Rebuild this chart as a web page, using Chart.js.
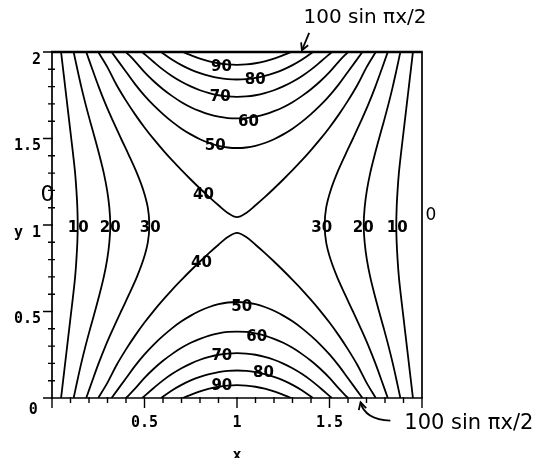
<!DOCTYPE html>
<html>
<head>
<meta charset="utf-8">
<script src="https://cdn.jsdelivr.net/npm/chart.js@4.4.1/dist/chart.umd.min.js"></script>
<style>
  html, body { margin: 0; padding: 0; background: #fff; }
  canvas { display: block; }
</style>
</head>
<body>
<canvas id="contours" width="558" height="458"></canvas>
<script>
// level lines of u(x, y) on the square 0..2 x 0..2
// u = 0 on the sides, u = 100 sin(pi x / 2) on top and bottom

// side curves (levels 10, 20, 30): x read at y = 0, 0.1, ... 2
const ySide = [0, 0.1, 0.2, 0.3, 0.4, 0.5, 0.6, 0.7, 0.8, 0.9, 1, 1.1, 1.2, 1.3, 1.4, 1.5, 1.6, 1.7, 1.8, 1.9, 2];
const left10 = [0.049, 0.060, 0.071, 0.082, 0.093, 0.104, 0.115, 0.125, 0.132, 0.137, 0.139, 0.137, 0.132, 0.125, 0.115, 0.104, 0.093, 0.082, 0.071, 0.060, 0.049];
const left20 = [0.117, 0.137, 0.158, 0.181, 0.206, 0.232, 0.257, 0.280, 0.298, 0.310, 0.315, 0.310, 0.298, 0.280, 0.257, 0.232, 0.206, 0.181, 0.158, 0.137, 0.117];
const left30 = [0.185, 0.218, 0.252, 0.289, 0.330, 0.373, 0.417, 0.459, 0.494, 0.518, 0.526, 0.518, 0.494, 0.459, 0.417, 0.373, 0.330, 0.289, 0.252, 0.218, 0.185];
const right10 = [1.951, 1.940, 1.929, 1.918, 1.907, 1.896, 1.885, 1.875, 1.868, 1.863, 1.861, 1.863, 1.868, 1.875, 1.885, 1.896, 1.907, 1.918, 1.929, 1.940, 1.951];
const right20 = [1.883, 1.863, 1.842, 1.819, 1.794, 1.768, 1.743, 1.720, 1.702, 1.690, 1.685, 1.690, 1.702, 1.720, 1.743, 1.768, 1.794, 1.819, 1.842, 1.863, 1.883];
const right30 = [1.815, 1.782, 1.748, 1.711, 1.670, 1.627, 1.583, 1.541, 1.506, 1.482, 1.474, 1.482, 1.506, 1.541, 1.583, 1.627, 1.670, 1.711, 1.748, 1.782, 1.815];

// arches (levels 40..90), [x, y] pairs, bottom half and top half
const bottom40 = [[0.25, 0], [0.3, 0.089], [0.35, 0.192], [0.4, 0.281], [0.45, 0.362], [0.5, 0.436], [0.55, 0.504], [0.6, 0.567], [0.65, 0.627], [0.7, 0.683], [0.75, 0.737], [0.8, 0.789], [0.85, 0.839], [0.9, 0.886], [0.95, 0.930], [1, 0.955], [1.05, 0.930], [1.1, 0.886], [1.15, 0.839], [1.2, 0.789], [1.25, 0.737], [1.3, 0.683], [1.35, 0.627], [1.4, 0.567], [1.45, 0.504], [1.5, 0.436], [1.55, 0.362], [1.6, 0.281], [1.65, 0.192], [1.7, 0.089], [1.75, 0]];
const top40 = [[0.25, 2], [0.3, 1.911], [0.35, 1.808], [0.4, 1.719], [0.45, 1.638], [0.5, 1.564], [0.55, 1.496], [0.6, 1.433], [0.65, 1.373], [0.7, 1.317], [0.75, 1.263], [0.8, 1.211], [0.85, 1.161], [0.9, 1.114], [0.95, 1.070], [1, 1.045], [1.05, 1.070], [1.1, 1.114], [1.15, 1.161], [1.2, 1.211], [1.25, 1.263], [1.3, 1.317], [1.35, 1.373], [1.4, 1.433], [1.45, 1.496], [1.5, 1.564], [1.55, 1.638], [1.6, 1.719], [1.65, 1.808], [1.7, 1.911], [1.75, 2]];
const bottom50 = [[0.322, 0], [0.4, 0.114], [0.45, 0.187], [0.5, 0.252], [0.55, 0.309], [0.6, 0.359], [0.65, 0.404], [0.7, 0.443], [0.75, 0.476], [0.8, 0.504], [0.85, 0.526], [0.9, 0.542], [0.95, 0.552], [1, 0.555], [1.05, 0.552], [1.1, 0.542], [1.15, 0.526], [1.2, 0.504], [1.25, 0.476], [1.3, 0.443], [1.35, 0.404], [1.4, 0.359], [1.45, 0.309], [1.5, 0.252], [1.55, 0.187], [1.6, 0.114], [1.678, 0]];
const top50 = [[0.322, 2], [0.4, 1.886], [0.45, 1.813], [0.5, 1.748], [0.55, 1.691], [0.6, 1.641], [0.65, 1.596], [0.7, 1.557], [0.75, 1.524], [0.8, 1.496], [0.85, 1.474], [0.9, 1.458], [0.95, 1.448], [1, 1.445], [1.05, 1.448], [1.1, 1.458], [1.15, 1.474], [1.2, 1.496], [1.25, 1.524], [1.3, 1.557], [1.35, 1.596], [1.4, 1.641], [1.45, 1.691], [1.5, 1.748], [1.55, 1.813], [1.6, 1.886], [1.678, 2]];
const bottom60 = [[0.40, 0], [0.45, 0.055], [0.5, 0.116], [0.55, 0.169], [0.6, 0.215], [0.65, 0.255], [0.7, 0.290], [0.75, 0.319], [0.8, 0.342], [0.85, 0.361], [0.9, 0.374], [0.95, 0.382], [1, 0.384], [1.05, 0.382], [1.1, 0.374], [1.15, 0.361], [1.2, 0.342], [1.25, 0.319], [1.3, 0.290], [1.35, 0.255], [1.4, 0.215], [1.45, 0.169], [1.5, 0.116], [1.55, 0.055], [1.6, 0]];
const top60 = [[0.40, 2], [0.45, 1.945], [0.5, 1.884], [0.55, 1.831], [0.6, 1.785], [0.65, 1.745], [0.7, 1.710], [0.75, 1.681], [0.8, 1.658], [0.85, 1.639], [0.9, 1.626], [0.95, 1.618], [1, 1.616], [1.05, 1.618], [1.1, 1.626], [1.15, 1.639], [1.2, 1.658], [1.25, 1.681], [1.3, 1.710], [1.35, 1.745], [1.4, 1.785], [1.45, 1.831], [1.5, 1.884], [1.55, 1.945], [1.6, 2]];
const bottom70 = [[0.487, 0], [0.55, 0.058], [0.6, 0.102], [0.65, 0.140], [0.7, 0.172], [0.75, 0.199], [0.8, 0.221], [0.85, 0.238], [0.9, 0.250], [0.95, 0.257], [1, 0.259], [1.05, 0.257], [1.1, 0.250], [1.15, 0.238], [1.2, 0.221], [1.25, 0.199], [1.3, 0.172], [1.35, 0.140], [1.4, 0.102], [1.45, 0.058], [1.513, 0]];
const top70 = [[0.487, 2], [0.55, 1.942], [0.6, 1.898], [0.65, 1.860], [0.7, 1.828], [0.75, 1.801], [0.8, 1.779], [0.85, 1.762], [0.9, 1.750], [0.95, 1.743], [1, 1.741], [1.05, 1.743], [1.1, 1.750], [1.15, 1.762], [1.2, 1.779], [1.25, 1.801], [1.3, 1.828], [1.35, 1.860], [1.4, 1.898], [1.45, 1.942], [1.513, 2]];
const bottom80 = [[0.59, 0], [0.65, 0.045], [0.7, 0.076], [0.75, 0.102], [0.8, 0.122], [0.85, 0.138], [0.9, 0.150], [0.95, 0.157], [1, 0.159], [1.05, 0.157], [1.1, 0.150], [1.15, 0.138], [1.2, 0.122], [1.25, 0.102], [1.3, 0.076], [1.35, 0.045], [1.41, 0]];
const top80 = [[0.59, 2], [0.65, 1.955], [0.7, 1.924], [0.75, 1.898], [0.8, 1.878], [0.85, 1.862], [0.9, 1.850], [0.95, 1.843], [1, 1.841], [1.05, 1.843], [1.1, 1.850], [1.15, 1.862], [1.2, 1.878], [1.25, 1.898], [1.3, 1.924], [1.35, 1.955], [1.41, 2]];
const bottom90 = [[0.707, 0], [0.75, 0.018], [0.8, 0.038], [0.85, 0.054], [0.9, 0.065], [0.95, 0.072], [1, 0.074], [1.05, 0.072], [1.1, 0.065], [1.15, 0.054], [1.2, 0.038], [1.25, 0.018], [1.293, 0]];
const top90 = [[0.707, 2], [0.75, 1.982], [0.8, 1.962], [0.85, 1.946], [0.9, 1.935], [0.95, 1.928], [1, 1.926], [1.05, 1.928], [1.1, 1.935], [1.15, 1.946], [1.2, 1.962], [1.25, 1.982], [1.293, 2]];

// axis labels
const xTickText = { '0.5': '0.5', '1': '1', '1.5': '1.5' };
const yTickText = { '0.5': '0.5', '1': 'y 1', '1.5': '1.5', '2': '2' };

// level numbers written on the curves: text, x, y
const levelTags = [
  ['90', 0.916, 1.915], ['80', 1.098, 1.838], ['70', 0.909, 1.738], ['60', 1.062, 1.597], ['50', 0.882, 1.458], ['40', 0.819, 1.173],
  ['40', 0.808, 0.782], ['50', 1.025, 0.528], ['60', 1.107, 0.351], ['70', 0.918, 0.243], ['80', 1.143, 0.143], ['90', 0.918, 0.069],
  ['10', 0.142, 0.983], ['20', 0.315, 0.983], ['30', 0.531, 0.983], ['30', 1.458, 0.983], ['20', 1.682, 0.983], ['10', 1.866, 0.983]
];
const boundaryText = '100 sin \u03c0x/2';

const sideCurve = xs => xs.map((x, i) => ({ x: x, y: ySide[i] }));

const curves = [
  sideCurve(left10), sideCurve(left20), sideCurve(left30),
  sideCurve(right10), sideCurve(right20), sideCurve(right30),
  bottom40, top40, bottom50, top50, bottom60, top60,
  bottom70, top70, bottom80, top80, bottom90, top90
];

const tickValue = v => String(+Number(v).toFixed(1));
const isMajor = v => Math.abs(v * 2 - Math.round(v * 2)) < 1e-6;

// frame, inward/outward tick marks
const frameTicks = {
  id: 'frameTicks',
  afterDraw(chart) {
    const { ctx, chartArea: a, scales } = chart;
    ctx.save();
    ctx.strokeStyle = '#000';
    ctx.lineWidth = 1.7;
    ctx.beginPath();
    ctx.moveTo(a.left, a.top); ctx.lineTo(a.left, a.bottom);
    ctx.lineTo(a.right, a.bottom); ctx.lineTo(a.right, a.top);
    ctx.stroke();
    ctx.lineWidth = 2.6;
    ctx.beginPath();
    ctx.moveTo(a.left - 1, a.top); ctx.lineTo(a.right + 0.8, a.top);
    ctx.stroke();

    ctx.lineWidth = 1.4;
    ctx.beginPath();
    scales.x.ticks.forEach(t => {
      const px = scales.x.getPixelForValue(t.value);
      const len = isMajor(t.value) ? 10 : 5;
      ctx.moveTo(px, a.bottom - 1); ctx.lineTo(px, a.bottom + len);
    });
    scales.y.ticks.forEach(t => {
      const py = scales.y.getPixelForValue(t.value);
      if (isMajor(t.value)) {
        ctx.moveTo(a.left - 9, py); ctx.lineTo(a.left + 1, py);
      } else {
        ctx.moveTo(a.left - 4, py); ctx.lineTo(a.left + 3, py);
      }
    });
    ctx.stroke();

    ctx.fillStyle = '#000';
    ctx.font = 'bold 15px "DejaVu Sans Mono"';
    ctx.textAlign = 'center';
    ctx.textBaseline = 'middle';
    ctx.fillText('0', scales.x.getPixelForValue(-0.101), scales.y.getPixelForValue(-0.069));
    ctx.restore();
  }
};

// handwritten notes: level numbers, boundary values and arrows
const notes = {
  id: 'notes',
  afterDraw(chart) {
    const { ctx, scales } = chart;
    const X = v => scales.x.getPixelForValue(v);
    const Y = v => scales.y.getPixelForValue(v);
    ctx.save();
    ctx.fillStyle = '#000';
    ctx.strokeStyle = '#000';
    ctx.textAlign = 'center';
    ctx.textBaseline = 'middle';

    ctx.font = 'bold 15px "DejaVu Sans"';
    levelTags.forEach(([t, x, y]) => ctx.fillText(t, X(x), Y(y)));

    ctx.font = '22px "DejaVu Sans"';
    ctx.fillText('0', X(-0.025), Y(1.173));
    ctx.font = '17px "DejaVu Sans"';
    ctx.fillText('0', X(2.048), Y(1.052));

    ctx.font = '20px "DejaVu Sans"';
    ctx.fillText(boundaryText, X(1.692), Y(2.197));
    ctx.font = '21px "DejaVu Sans"';
    ctx.fillText(boundaryText, X(2.253), Y(-0.145));

    const head = (tx, ty, fx, fy) => {
      const ang = Math.atan2(ty - fy, tx - fx);
      ctx.beginPath();
      ctx.moveTo(tx - 8 * Math.cos(ang - 0.5), ty - 8 * Math.sin(ang - 0.5));
      ctx.lineTo(tx, ty);
      ctx.lineTo(tx - 8 * Math.cos(ang + 0.5), ty - 8 * Math.sin(ang + 0.5));
      ctx.stroke();
    };
    ctx.lineWidth = 1.8;
    ctx.beginPath();
    ctx.moveTo(X(1.39), Y(2.11));
    ctx.lineTo(X(1.351), Y(2.01));
    ctx.stroke();
    head(X(1.351), Y(2.01), X(1.39), Y(2.11));

    ctx.beginPath();
    ctx.moveTo(X(1.829), Y(-0.131));
    ctx.quadraticCurveTo(X(1.69), Y(-0.125), X(1.668), Y(-0.025));
    ctx.stroke();
    head(X(1.668), Y(-0.025), X(1.685), Y(-0.09));
    ctx.restore();
  }
};

new Chart(document.getElementById('contours'), {
  type: 'scatter',
  data: {
    datasets: curves.map(pts => ({
      data: pts,
      showLine: true,
      borderColor: '#000',
      borderWidth: 1.8,
      pointRadius: 0,
      tension: 0.35
    }))
  },
  options: {
    responsive: false,
    animation: false,
    devicePixelRatio: 1,
    layout: { padding: { top: 52, right: 136, left: 0, bottom: 0 } },
    plugins: { legend: { display: false }, tooltip: { enabled: false } },
    events: [],
    scales: {
      x: {
        type: 'linear', min: 0, max: 2,
        afterFit: s => { s.height = 60; },
        grid: { display: false },
        border: { display: false },
        ticks: {
          stepSize: 0.1, autoSkip: false, maxRotation: 0, padding: 8,
          color: '#000', font: { family: 'DejaVu Sans Mono', size: 15, weight: 'bold' },
          callback: v => xTickText[tickValue(v)] ?? ''
        },
        title: {
          display: true, text: 'x', color: '#000',
          font: { family: 'DejaVu Sans Mono', size: 15, weight: 'bold' },
          padding: { top: 0, bottom: -7 }
        }
      },
      y: {
        type: 'linear', min: 0, max: 2,
        afterFit: s => { s.width = 52; },
        grid: { display: false },
        border: { display: false },
        ticks: {
          stepSize: 0.1, autoSkip: false, padding: 3, labelOffset: 8,
          color: '#000', font: { family: 'DejaVu Sans Mono', size: 15, weight: 'bold' },
          callback: v => yTickText[tickValue(v)] ?? ''
        }
      }
    }
  },
  plugins: [frameTicks, notes]
});
</script>
</body>
</html>
